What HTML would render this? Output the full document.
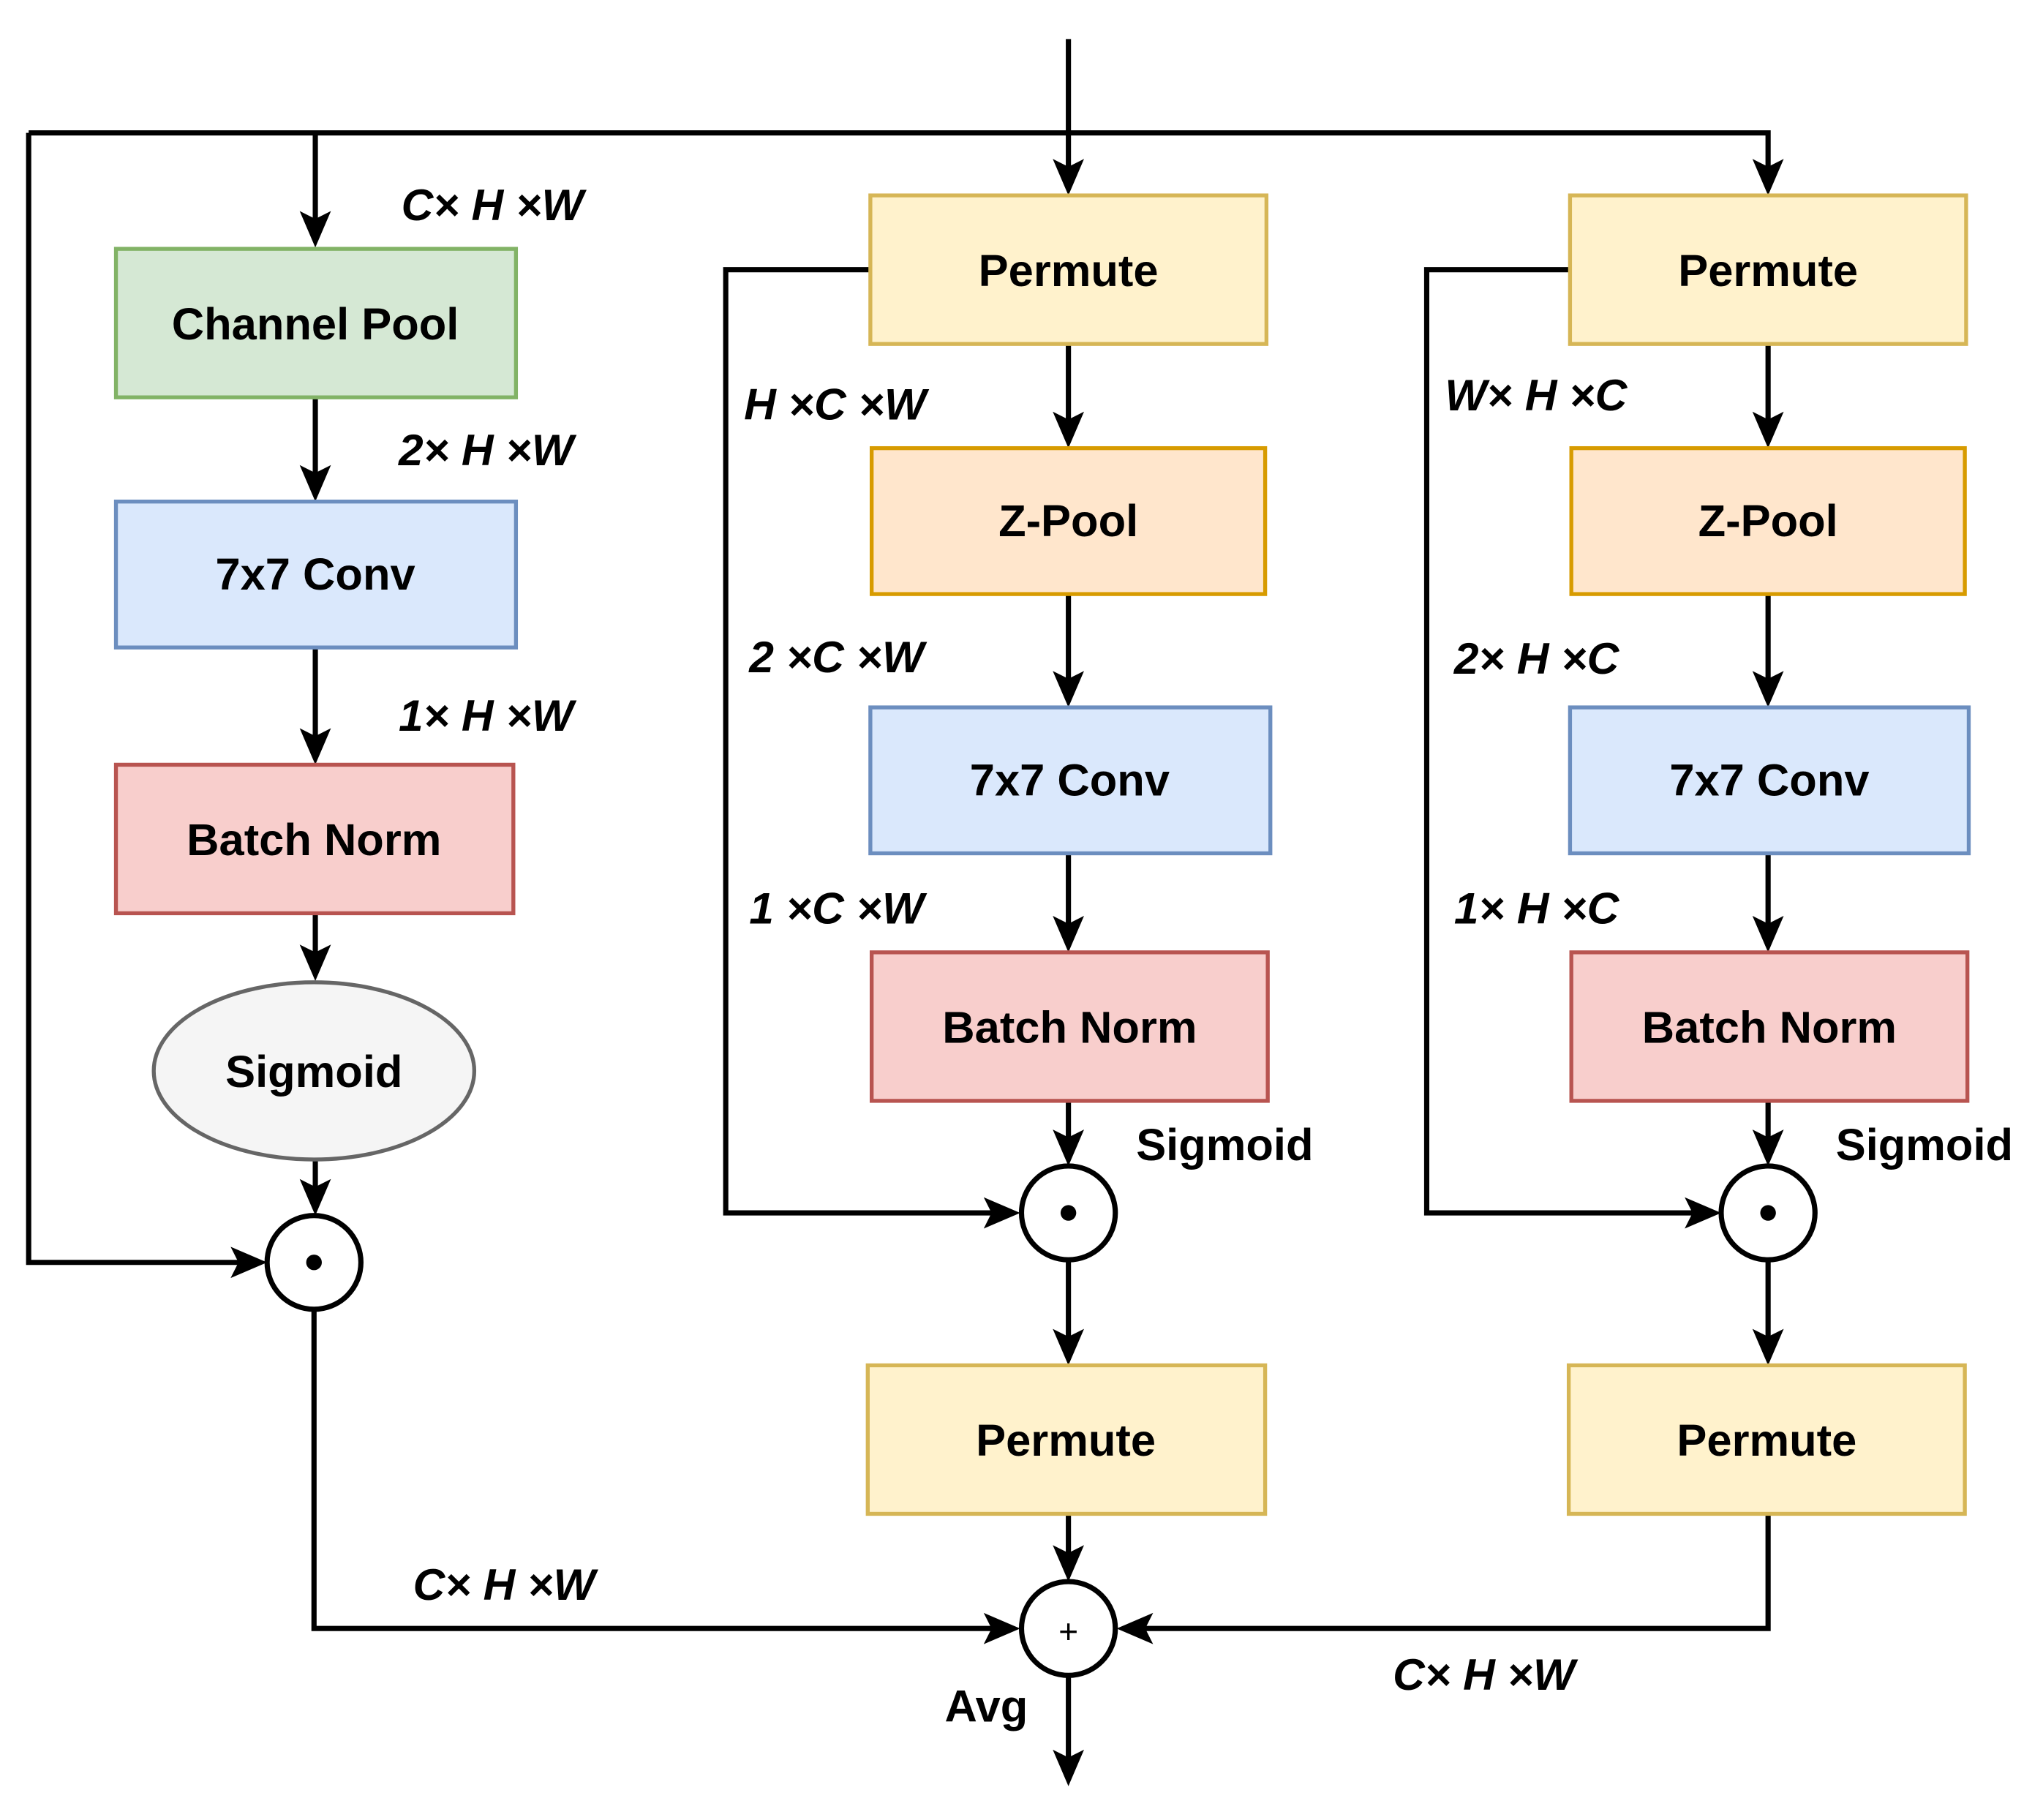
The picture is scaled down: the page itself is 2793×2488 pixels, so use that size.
<!DOCTYPE html>
<html><head><meta charset="utf-8"><style>
html,body{margin:0;padding:0;background:#fff;}
svg{display:block;}
text{font-family:"Liberation Sans",sans-serif;font-weight:bold;fill:#000;}
.b{font-size:34.5px;text-anchor:middle;dominant-baseline:central;}
.i{font-size:34px;font-style:italic;}
</style></head><body>
<svg width="2793" height="2488" viewBox="0 0 1568 1397" preserveAspectRatio="none" xmlns="http://www.w3.org/2000/svg">
<g fill="none" stroke="#000" stroke-width="4">
<path d="M820 30 V140"/>
<path d="M22 102 H1357 V140"/>
<path d="M242 102 V180"/>
<path d="M22 102 V969 H195"/>
<path d="M242 305 V374"/>
<path d="M242 497 V576"/>
<path d="M242 701 V742"/>
<path d="M242 890 V922"/>
<path d="M241 1005 V1250 H773"/>
<path d="M820 264 V333"/>
<path d="M820 456 V532"/>
<path d="M820 655 V720"/>
<path d="M820 845 V884"/>
<path d="M668 207 H557 V931 H773"/>
<path d="M820 967 V1037"/>
<path d="M820 1162 V1203"/>
<path d="M1357 264 V333"/>
<path d="M1357 456 V532"/>
<path d="M1357 655 V720"/>
<path d="M1357 845 V884"/>
<path d="M1205 207 H1095 V931 H1310"/>
<path d="M1357 967 V1037"/>
<path d="M1357 1162 V1250 H867"/>
<path d="M820 1286 V1360"/>
</g>
<g fill="#000">
<polygon points="808,122 820,150 832,122 820,128"/>
<polygon points="1345,122 1357,150 1369,122 1357,128"/>
<polygon points="230,162 242,190 254,162 242,168"/>
<polygon points="230,357 242,385 254,357 242,363"/>
<polygon points="230,559 242,587 254,559 242,565"/>
<polygon points="230,725 242,753 254,725 242,731"/>
<polygon points="230,905 242,933 254,905 242,911"/>
<polygon points="177,957 205,969 177,981 183,969"/>
<polygon points="755,1238 783,1250 755,1262 761,1250"/>
<polygon points="808,316 820,344 832,316 820,322"/>
<polygon points="808,515 820,543 832,515 820,521"/>
<polygon points="808,703 820,731 832,703 820,709"/>
<polygon points="808,867 820,895 832,867 820,873"/>
<polygon points="755,919 783,931 755,943 761,931"/>
<polygon points="808,1020 820,1048 832,1020 820,1026"/>
<polygon points="808,1186 820,1214 832,1186 820,1192"/>
<polygon points="1345,316 1357,344 1369,316 1357,322"/>
<polygon points="1345,515 1357,543 1369,515 1357,521"/>
<polygon points="1345,703 1357,731 1369,703 1357,709"/>
<polygon points="1345,867 1357,895 1369,867 1357,873"/>
<polygon points="1293,919 1321,931 1293,943 1299,931"/>
<polygon points="1345,1020 1357,1048 1369,1020 1357,1026"/>
<polygon points="885,1238 857,1250 885,1262 879,1250"/>
<polygon points="808,1343 820,1371 832,1343 820,1349"/>
</g>
<g stroke-width="3">
<rect x="89" y="191" width="307" height="114" fill="#d5e8d4" stroke="#82b366"/>
<rect x="89" y="385" width="307" height="112" fill="#dae8fc" stroke="#6c8ebf"/>
<rect x="89" y="587" width="305" height="114" fill="#f8cecc" stroke="#b85450"/>
<ellipse cx="241" cy="822" rx="123" ry="68" fill="#f5f5f5" stroke="#666666"/>
<rect x="668" y="150" width="304" height="114" fill="#fff2cc" stroke="#d6b656"/>
<rect x="669" y="344" width="302" height="112" fill="#ffe6cc" stroke="#d79b00"/>
<rect x="668" y="543" width="307" height="112" fill="#dae8fc" stroke="#6c8ebf"/>
<rect x="669" y="731" width="304" height="114" fill="#f8cecc" stroke="#b85450"/>
<rect x="666" y="1048" width="305" height="114" fill="#fff2cc" stroke="#d6b656"/>
<rect x="1205" y="150" width="304" height="114" fill="#fff2cc" stroke="#d6b656"/>
<rect x="1206" y="344" width="302" height="112" fill="#ffe6cc" stroke="#d79b00"/>
<rect x="1205" y="543" width="306" height="112" fill="#dae8fc" stroke="#6c8ebf"/>
<rect x="1206" y="731" width="304" height="114" fill="#f8cecc" stroke="#b85450"/>
<rect x="1204" y="1048" width="304" height="114" fill="#fff2cc" stroke="#d6b656"/>
</g>
<g fill="#fff" stroke="#000" stroke-width="4">
<circle cx="241" cy="969" r="36"/>
<circle cx="820" cy="931" r="36"/>
<circle cx="1357" cy="931" r="36"/>
<circle cx="820" cy="1250" r="36"/>
</g>
<g fill="#000">
<circle cx="241" cy="969" r="6"/>
<circle cx="820" cy="931" r="6"/>
<circle cx="1357" cy="931" r="6"/>
</g>
<text x="820" y="1252" style="font-size:26px;font-weight:normal;text-anchor:middle;dominant-baseline:central">+</text>
<text class="b" x="242" y="249">Channel Pool</text>
<text class="b" x="242" y="441">7x7 Conv</text>
<text class="b" x="241" y="645">Batch Norm</text>
<text class="b" x="241" y="823">Sigmoid</text>
<text class="b" x="820" y="208">Permute</text>
<text class="b" x="820" y="400">Z-Pool</text>
<text class="b" x="821" y="599">7x7 Conv</text>
<text class="b" x="821" y="789">Batch Norm</text>
<text class="b" x="818" y="1106">Permute</text>
<text class="b" x="1357" y="208">Permute</text>
<text class="b" x="1357" y="400">Z-Pool</text>
<text class="b" x="1358" y="599">7x7 Conv</text>
<text class="b" x="1358" y="789">Batch Norm</text>
<text class="b" x="1356" y="1106">Permute</text>
<text class="b" x="940" y="879">Sigmoid</text>
<text class="b" x="1477" y="879">Sigmoid</text>
<text class="b" x="757" y="1310">Avg</text>
<text class="i" x="308" y="169">C× H ×W</text>
<text class="i" x="306" y="357">2× H ×W</text>
<text class="i" x="306" y="561">1× H ×W</text>
<text class="i" x="571" y="322">H ×C ×W</text>
<text class="i" x="575" y="516">2 ×C ×W</text>
<text class="i" x="575" y="709">1 ×C ×W</text>
<text class="i" x="1109" y="315">W× H ×C</text>
<text class="i" x="1116" y="517">2× H ×C</text>
<text class="i" x="1116" y="709">1× H ×C</text>
<text class="i" x="317" y="1228">C× H ×W</text>
<text class="i" x="1069" y="1297">C× H ×W</text>
</svg>
</body></html>
